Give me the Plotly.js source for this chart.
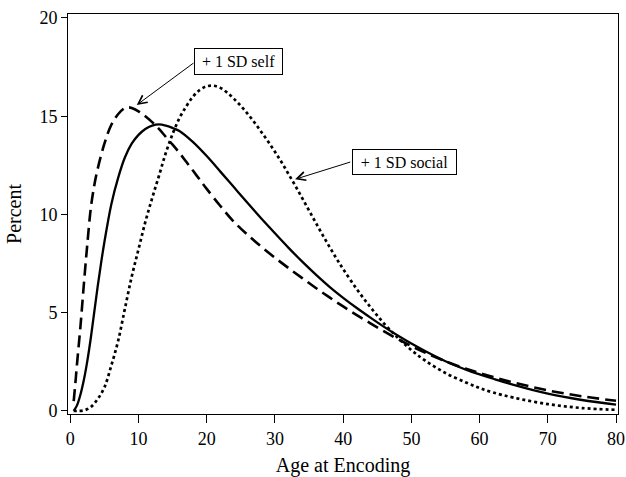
<!DOCTYPE html>
<html>
<head>
<meta charset="utf-8">
<script src="https://cdn.plot.ly/plotly-3.0.1.min.js"></script>
<style>html,body{margin:0;padding:0;background:#fff;}#chart{width:626px;height:477px;}</style>
</head>
<body>
<div id="chart"></div>
<script>
// Baseline (solid)
const baseX = [0.5,1,1.5,2,2.5,3,3.5,4,4.5,5,6,7,8,9,10,11,12,13,14,15,16,18,20,22,24,26,28,30,32,34,36,38,40,42,44,46,48,50,52,55,58,60,62,65,70,75,80];
const baseY = [0,0.3,0.85,1.6,2.55,3.7,5.0,6.3,7.5,8.6,10.5,11.85,12.9,13.6,14.05,14.35,14.52,14.58,14.52,14.4,14.25,13.68,12.97,12.18,11.38,10.58,9.8,9.04,8.3,7.6,6.94,6.32,5.76,5.24,4.75,4.28,3.84,3.43,3.05,2.53,2.1,1.86,1.64,1.33,0.88,0.56,0.32];
// +1 SD self (dashed)
const selfX = [0.5,0.75,1,1.5,2,2.5,3,3.5,4,5,6,7,8,8.5,9,10,11,12,13,14,15,16,17,18,19,20,22,24,26,28,30,32,34,36,38,40,42,44,46,48,50,52,55,58,60,62,65,70,75,80];
const selfY = [0.5,1.45,2.45,4.35,6.5,8.5,10.3,11.45,12.3,13.6,14.55,15.1,15.42,15.45,15.42,15.25,15.0,14.7,14.35,13.95,13.55,13.13,12.68,12.22,11.76,11.3,10.43,9.62,8.96,8.36,7.8,7.27,6.76,6.26,5.78,5.32,4.88,4.46,4.05,3.66,3.3,2.97,2.53,2.15,1.93,1.73,1.45,1.05,0.75,0.52];
// +1 SD social (dotted)
const socialX = [0.5,1,2,3,4,5,6,7,8,9,10,11,12,13,14,15,16,17,18,19,20,21,22,23,24,25,26,27,28,29,30,31,32,33,34,35,36,37,38,39,40,42,44,46,48,50,52,55,58,60,62,65,70,75,80];
const socialY = [0,0,0.03,0.2,0.6,1.2,2.3,3.55,5.2,6.83,8.23,9.62,10.83,11.97,13.13,14.1,14.9,15.5,16.0,16.34,16.52,16.55,16.44,16.2,15.88,15.52,15.12,14.68,14.2,13.71,13.19,12.64,12.05,11.45,10.83,10.2,9.57,8.95,8.35,7.77,7.22,6.2,5.28,4.45,3.73,3.1,2.57,1.93,1.45,1.17,0.94,0.68,0.35,0.15,0.06];

const xTicks = [0,10,20,30,40,50,60,70,80];
const yTicks = [0,5,10,15,20];
const labelSelf = "+ 1 SD self";
const labelSocial = "+ 1 SD social";
const xTitle = "Age at Encoding";
const yTitle = "Percent";

const font = "Liberation Serif, Times New Roman, serif";

const traces = [
  {x: baseX, y: baseY, mode: 'lines', line: {color: '#000', width: 2.3, shape: 'spline', smoothing: 1}, hoverinfo: 'none'},
  {x: selfX, y: selfY, mode: 'lines', line: {color: '#000', width: 2.6, dash: '12px,6px', shape: 'spline', smoothing: 1}, hoverinfo: 'none'},
  {x: socialX, y: socialY, mode: 'lines', line: {color: '#000', width: 2.7, dash: 'dot', shape: 'spline', smoothing: 1}, hoverinfo: 'none'}
];

const layout = {
  width: 626, height: 477,
  margin: {l: 68, r: 8.3, t: 14, b: 63, pad: 0},
  paper_bgcolor: '#fff', plot_bgcolor: '#fff',
  showlegend: false,
  font: {family: font, color: '#000', size: 18},
  xaxis: {
    range: [-0.337, 80.29], tickvals: xTicks, ticktext: xTicks.map(String),
    showgrid: false, zeroline: false, showline: true, mirror: true, linecolor: '#000', linewidth: 1,
    ticks: 'outside', ticklen: 8, tickwidth: 1, tickcolor: '#000',
    tickfont: {family: font, size: 18, color: '#000'},
    title: {text: xTitle, font: {family: font, size: 20, color: '#000'}, standoff: 10}
  },
  yaxis: {
    range: [-0.153, 20.2], tickvals: yTicks, ticktext: yTicks.map(String),
    showgrid: false, zeroline: false, showline: true, mirror: true, linecolor: '#000', linewidth: 1,
    ticks: 'outside', ticklen: 6, tickwidth: 1, tickcolor: '#000',
    tickfont: {family: font, size: 18, color: '#000'},
    title: {text: yTitle, font: {family: font, size: 20, color: '#000'}, standoff: 12}
  },
  annotations: [
    {x: 9.74, y: 15.57, ax: 18.28, ay: 17.76, axref: 'x', ayref: 'y', xref: 'x', yref: 'y', text: '', showarrow: true, arrowhead: 5, arrowsize: 1.7, arrowwidth: 1, arrowcolor: '#000'},
    {x: 32.95, y: 11.79, ax: 41.26, ay: 12.69, axref: 'x', ayref: 'y', xref: 'x', yref: 'y', text: '', showarrow: true, arrowhead: 5, arrowsize: 1.7, arrowwidth: 1, arrowcolor: '#000'},
    {x: 24.71, y: 17.78, xref: 'x', yref: 'y', text: labelSelf, showarrow: false, font: {family: font, size: 16, color: '#000'}, bordercolor: '#000', borderwidth: 1, borderpad: 1, bgcolor: '#fff', width: 85, height: 23},
    {x: 48.96, y: 12.69, xref: 'x', yref: 'y', text: labelSocial, showarrow: false, font: {family: font, size: 16, color: '#000'}, bordercolor: '#000', borderwidth: 1, borderpad: 1, bgcolor: '#fff', width: 101, height: 22}
  ]
};

Plotly.newPlot('chart', traces, layout, {staticPlot: true, displayModeBar: false});
</script>
</body>
</html>
